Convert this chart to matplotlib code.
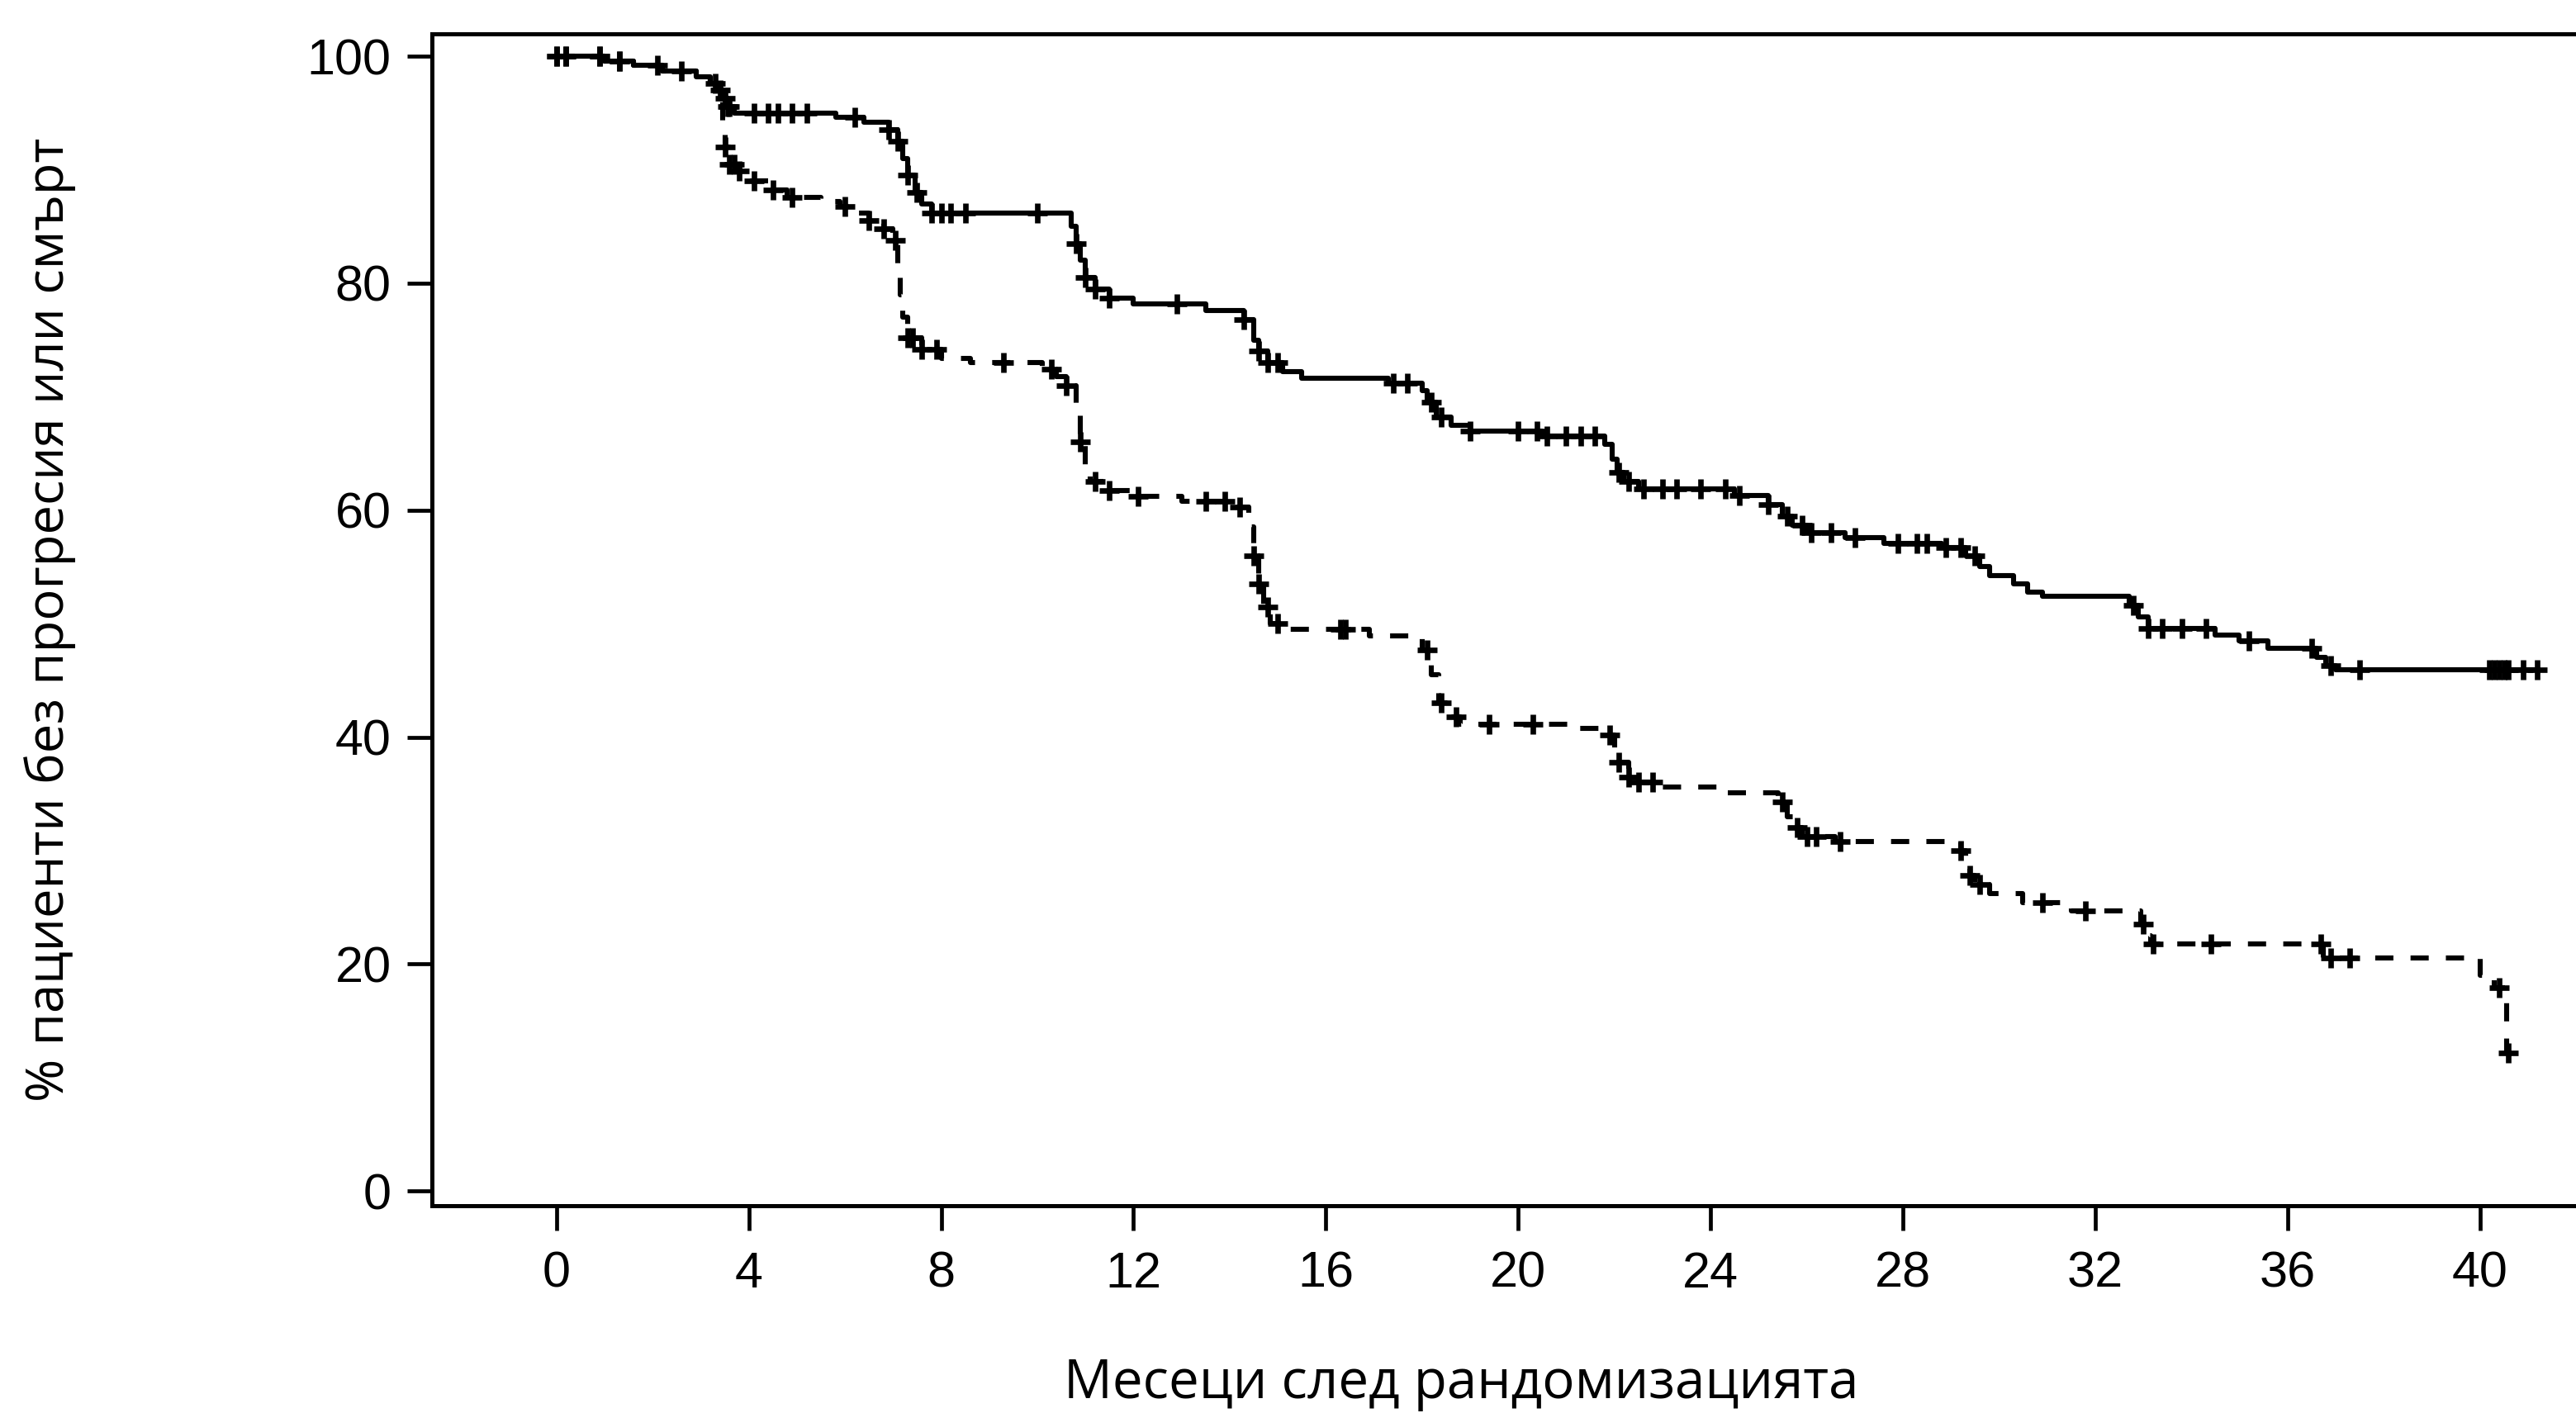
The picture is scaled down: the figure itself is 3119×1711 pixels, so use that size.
import numpy as np
import matplotlib
matplotlib.use("Agg")
import matplotlib.pyplot as plt

# ---------------- data ----------------
solid_times = [0, 1.0, 1.6, 2.2, 2.9, 3.2, 3.35, 3.45, 3.55, 3.7, 5.8, 6.4, 6.9, 7.1, 7.2, 7.3,
               7.45, 7.6, 7.8, 10.7, 10.8, 10.9, 11.0, 11.2, 11.5, 12.0, 13.5, 14.3, 14.5, 14.6,
               14.8, 15.1, 15.5, 17.3, 18.0, 18.1, 18.3, 18.6, 19.0, 20.5, 21.8, 21.95, 22.05,
               22.2, 22.5, 24.5, 25.2, 25.5, 25.7, 26.0, 26.8, 27.6, 28.8, 29.3, 29.6, 29.8,
               30.3, 30.6, 30.9, 32.7, 32.9, 33.1, 34.5, 35.0, 35.6, 36.6, 36.8, 37.0, 41.2]
solid_surv = [100, 99.6, 99.2, 98.7, 98.2, 97.6, 97.0, 96.3, 95.6, 95.0, 94.6, 94.2, 93.5, 92.5,
              91.0, 89.5, 88.0, 87.0, 86.2, 85.0, 83.5, 82.0, 80.5, 79.5, 78.7, 78.2, 77.6, 76.8,
              75.0, 74.0, 73.0, 72.2, 71.6, 71.2, 70.5, 69.5, 68.2, 67.5, 67.0, 66.5, 65.8, 64.5,
              63.3, 62.5, 61.9, 61.3, 60.5, 59.5, 58.7, 58.0, 57.6, 57.1, 56.7, 56.0, 55.0, 54.2,
              53.5, 52.8, 52.4, 51.6, 50.6, 49.6, 49.0, 48.5, 47.8, 47.0, 46.3, 45.9, 45.9]
solid_censored = [0.0, 0.2, 0.9, 1.3, 2.1, 2.6, 3.3, 3.4, 3.5, 3.55, 3.6, 4.1, 4.4, 4.6, 4.9, 5.2,
                  6.2, 6.9, 7.1, 7.3, 7.5, 7.8, 8.0, 8.2, 8.5, 10.0, 10.8, 11.0, 11.2, 11.5, 12.9,
                  14.3, 14.6, 14.8, 15.0, 17.4, 17.7, 18.2, 18.4, 19.0, 20.0, 20.4, 20.6, 21.0,
                  21.3, 21.6, 22.1, 22.3, 22.6, 23.0, 23.3, 23.8, 24.3, 24.6, 25.2, 25.6, 25.9,
                  26.1, 26.5, 27.0, 27.9, 28.3, 28.5, 28.9, 29.2, 29.5, 32.8, 33.1, 33.4, 33.8,
                  34.3, 35.2, 36.5, 36.9, 37.5, 40.2, 40.3, 40.4, 40.5, 40.6, 40.9, 41.2]

dashed_times = [0, 1.0, 1.6, 2.2, 2.9, 3.2, 3.35, 3.45, 3.5, 3.6, 3.75, 4.0, 4.4, 4.8, 5.5, 5.9,
                6.2, 6.5, 6.8, 7.0, 7.1, 7.15, 7.2, 7.3, 7.6, 8.0, 8.6, 10.1, 10.4, 10.6, 10.8,
                10.9, 11.0, 11.1, 11.4, 12.0, 13.0, 14.1, 14.4, 14.5, 14.6, 14.7, 14.85, 15.2,
                16.9, 18.0, 18.2, 18.35, 18.6, 18.8, 21.1, 21.8, 22.0, 22.1, 22.3, 22.5, 22.9,
                24.3, 25.4, 25.6, 25.75, 25.9, 26.6, 29.2, 29.3, 29.4, 29.5, 29.8, 30.5, 31.5,
                32.95, 33.05, 33.15, 36.75, 40.0, 40.3, 40.55, 40.6]
dashed_surv = [100, 99.6, 99.2, 98.7, 98.2, 97.6, 96.0, 94.0, 92.0, 90.5, 89.9, 89.0, 88.2, 87.6,
               87.2, 86.8, 86.2, 85.5, 84.8, 83.8, 81.0, 79.0, 77.0, 75.2, 74.2, 73.4, 73.0, 72.4,
               71.8, 71.0, 68.5, 66.0, 63.5, 62.5, 61.7, 61.2, 60.8, 60.3, 58.5, 56.0, 53.5, 51.5,
               50.0, 49.5, 48.9, 47.7, 45.5, 43.0, 41.8, 41.1, 40.8, 40.2, 39.0, 37.8, 36.5, 36.0,
               35.6, 35.1, 34.3, 33.0, 32.0, 31.2, 30.8, 30.0, 28.8, 27.8, 27.0, 26.2, 25.4, 24.7,
               23.5, 22.5, 21.8, 20.5, 19.0, 17.9, 12.2, 12.2]
dashed_censored = [0.0, 0.2, 0.9, 1.3, 3.5, 3.6, 3.7, 3.8, 4.1, 4.5, 4.9, 6.0, 6.5, 6.8, 7.05,
                   7.3, 7.4, 7.6, 7.9, 9.3, 10.3, 10.6, 10.9, 11.2, 11.5, 12.1, 13.5, 13.9, 14.2,
                   14.5, 14.6, 14.8, 15.0, 16.3, 16.4, 18.1, 18.4, 18.7, 19.4, 20.3, 21.9, 22.1,
                   22.3, 22.5, 22.8, 25.5, 25.8, 26.0, 26.2, 26.7, 29.2, 29.4, 29.6, 30.9, 31.8,
                   33.0, 33.2, 34.4, 36.7, 36.9, 37.3, 40.4, 40.6]

x_ticks = [0, 4, 8, 12, 16, 20, 24, 28, 32, 36, 40]
y_ticks = [0, 20, 40, 60, 80, 100]
x_label = "Месеци след рандомизацията"
y_label = "% пациенти без прогресия или смърт"


def step_value(times, surv, t):
    times = np.asarray(times)
    surv = np.asarray(surv)
    idx = np.searchsorted(times, t, side="right") - 1
    idx = np.clip(idx, 0, len(surv) - 1)
    return surv[idx]


# ---------------- figure ----------------
fig = plt.figure(figsize=(15.595, 8.555), dpi=200)
ax = fig.add_axes([0.1677, 0.1467, 0.8323, 0.8293])

lw = 2.2
ax.step(solid_times, solid_surv, where="post", color="black", lw=lw)
ax.step(dashed_times, dashed_surv, where="post", color="black", lw=lw,
        linestyle=(0, (3.6, 3.4)))

mk = dict(marker="+", linestyle="none", color="black", markersize=8.5, markeredgewidth=2.4)
ax.plot(solid_censored, step_value(solid_times, solid_surv, solid_censored), **mk)
ax.plot(dashed_censored, step_value(dashed_times, dashed_surv, dashed_censored), **mk)

ax.set_xlim(-2.59, 42.0)
ax.set_ylim(-1.3, 101.97)
ax.set_xticks(x_ticks)
ax.set_yticks(y_ticks)

tick_font = dict(family=["Liberation Sans", "DejaVu Sans"], size=22)
ax.set_xticklabels([str(v) for v in x_ticks], **tick_font)
ax.set_yticklabels([str(v) for v in y_ticks], **tick_font)
ax.tick_params(axis="both", direction="out", length=10.8, width=1.7, colors="black")
ax.tick_params(axis="x", pad=9)
ax.tick_params(axis="y", pad=7)

for side in ("left", "bottom", "top"):
    ax.spines[side].set_linewidth(1.8)
    ax.spines[side].set_color("black")
ax.spines["right"].set_visible(False)

ax.set_xlabel(x_label, va="baseline", family=["Open Sans", "DejaVu Sans"], size=23.6)
ax.xaxis.set_label_coords(0.480, -0.164)
ax.set_ylabel(y_label, va="center", family=["Open Sans", "DejaVu Sans"], size=22.8)
ax.yaxis.set_label_coords(-0.178, 0.5)

fig.savefig("out.png", dpi=200, facecolor="white")
